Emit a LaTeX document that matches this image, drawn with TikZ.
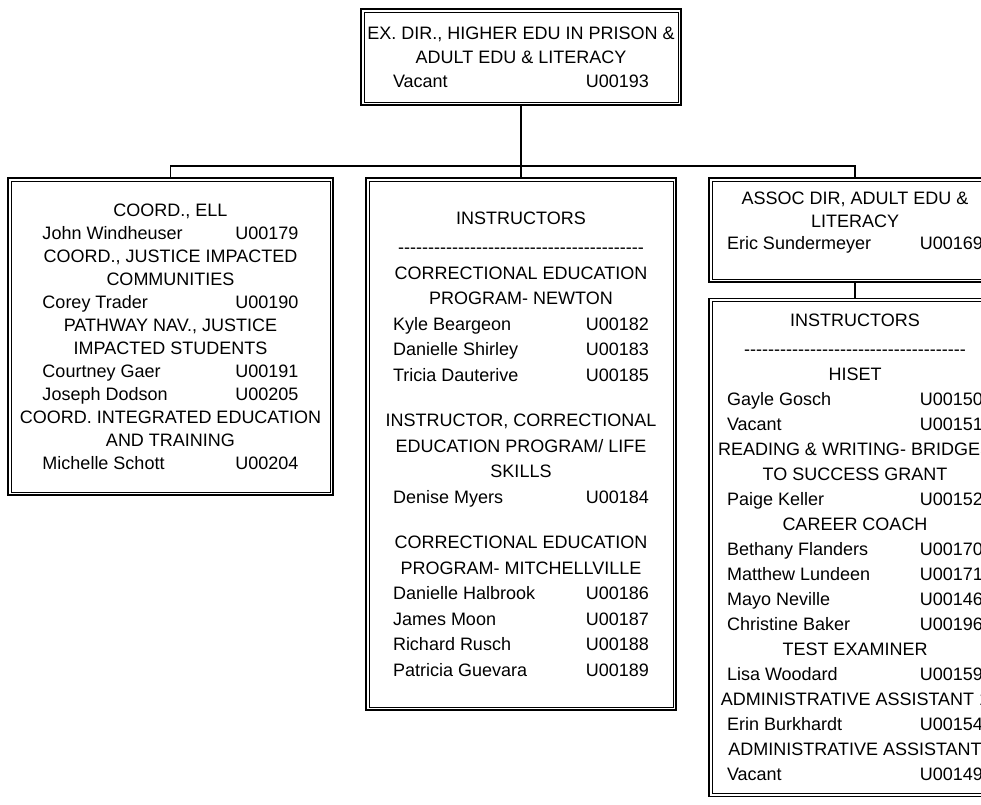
\documentclass[tikz,border=0pt]{standalone}
\usepackage{fontspec}
\setmainfont{Liberation Sans}
\usetikzlibrary{positioning}
\newcommand{\emp}[2]{\makebox[256pt]{#1\hfill #2}}
\newcommand{\wide}[1]{\makebox[0pt]{#1}}
\newcommand{\dashes}[1]{\foreach \k in {1,...,#1}{-}}

\begin{document}
\begin{tikzpicture}[x=1pt,y=1pt,
    orgbox/.style={draw,line width=1.3pt,align=center,inner sep=0pt,
      font=\fontsize{18}{24}\selectfont},
    link/.style={line width=1.3pt}]
  \useasboundingbox (0,0) rectangle (981,-804);
  \clip (0,0) rectangle (981,-804);
  % director
  \node[orgbox,minimum width=320pt,minimum height=96pt] (dir) at (521,-57)
    {EX. DIR., HIGHER EDU IN PRISON \&\\ADULT EDU \& LITERACY\\\emp{Vacant}{U00193}};
  % three branches
  \node[orgbox,font=\fontsize{18}{23}\selectfont,minimum width=325pt,minimum height=317pt] (ell) at (170.5,-336.5)
    {COORD., ELL\\
     \emp{John Windheuser}{U00179}\\
     COORD., JUSTICE IMPACTED\\
     COMMUNITIES\\
     \emp{Corey Trader}{U00190}\\
     PATHWAY NAV., JUSTICE\\
     IMPACTED STUDENTS\\
     \emp{Courtney Gaer}{U00191}\\
     \emp{Joseph Dodson}{U00205}\\
     COORD. INTEGRATED EDUCATION\\
     AND TRAINING\\
     \emp{Michelle Schott}{U00204}};
  \node[orgbox,font=\fontsize{18}{25.5}\selectfont,minimum width=310pt,minimum height=532pt] (inst) at (521,-444)
    {INSTRUCTORS\\[4pt]
     \dashes{41}\\
     CORRECTIONAL EDUCATION\\
     PROGRAM- NEWTON\\
     \emp{Kyle Beargeon}{U00182}\\
     \emp{Danielle Shirley}{U00183}\\
     \emp{Tricia Dauterive}{U00185}\\[20pt]
     INSTRUCTOR, CORRECTIONAL\\
     EDUCATION PROGRAM/ LIFE\\
     SKILLS\\
     \emp{Denise Myers}{U00184}\\[20pt]
     CORRECTIONAL EDUCATION\\
     PROGRAM- MITCHELLVILLE\\
     \emp{Danielle Halbrook}{U00186}\\
     \emp{James Moon}{U00187}\\
     \emp{Richard Rusch}{U00188}\\
     \emp{Patricia Guevara}{U00189}};
  \node[orgbox,font=\fontsize{18}{22.5}\selectfont,minimum width=292pt,minimum height=104pt] (assoc) at (855,-230)
    {ASSOC DIR, ADULT EDU \&\\LITERACY\\\emp{Eric Sundermeyer}{U00169}\\[-4pt]\mbox{}};
  \node[orgbox,font=\fontsize{18}{25}\selectfont,minimum width=292pt,minimum height=498pt,below=15pt of assoc] (staff)
    {INSTRUCTORS\\[4pt]
     \dashes{37}\\
     HISET\\
     \emp{Gayle Gosch}{U00150}\\
     \emp{Vacant}{U00151}\\
     \wide{READING \& WRITING- BRIDGES}\\
     TO SUCCESS GRANT\\
     \emp{Paige Keller}{U00152}\\
     CAREER COACH\\
     \emp{Bethany Flanders}{U00170}\\
     \emp{Matthew Lundeen}{U00171}\\
     \emp{Mayo Neville}{U00146}\\
     \emp{Christine Baker}{U00196}\\
     TEST EXAMINER\\
     \emp{Lisa Woodard}{U00159}\\
     \wide{ADMINISTRATIVE ASSISTANT 1}\\
     \emp{Erin Burkhardt}{U00154}\\
     \wide{ADMINISTRATIVE ASSISTANT}\\
     \emp{Vacant}{U00149}};
  % inner frame of the double border
  \foreach \b in {dir,ell,inst,assoc,staff}
    \draw[line width=0.6pt] ([shift={(3.5pt,-3.5pt)}]\b.north west) rectangle ([shift={(-3.5pt,3.5pt)}]\b.south east);
  % connectors
  \coordinate (bus) at (521,-166);
  \draw[link] (dir.south) -- (inst.north);
  \draw[link] (ell.north) |- (bus) -| (assoc.north);
  \draw[link] (assoc.south) -- (staff.north);
\end{tikzpicture}
\end{document}
